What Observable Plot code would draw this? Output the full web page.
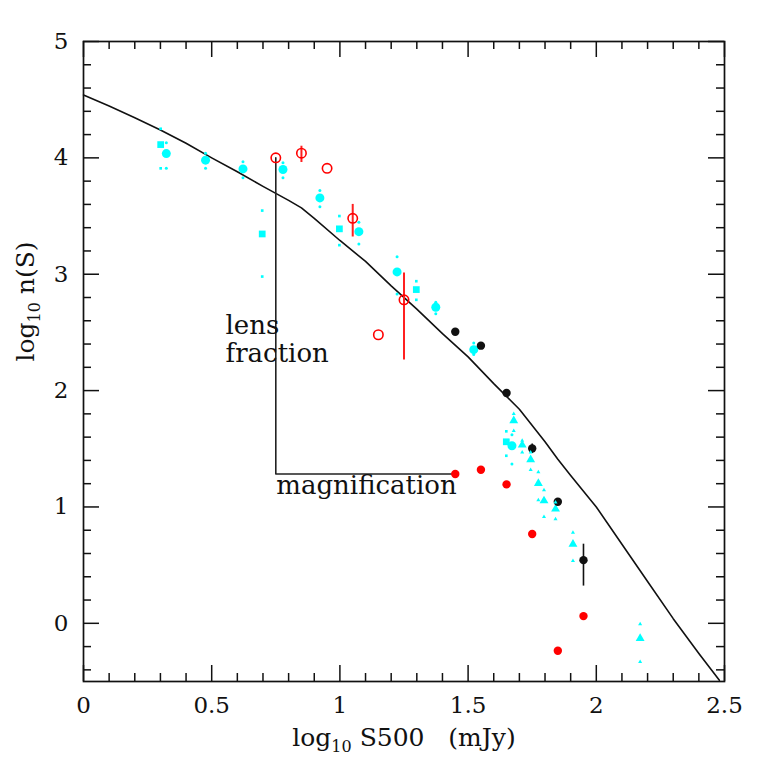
<!DOCTYPE html>
<html><head><meta charset="utf-8">
<script src="https://cdn.jsdelivr.net/npm/d3@7"></script>
<script src="https://cdn.jsdelivr.net/npm/@observablehq/plot@0.6"></script>
<style>body{margin:0;background:#fff} svg text{white-space:pre}</style>
</head><body><div id="chart"></div>
<script>
// model curve
const curveX = [0, 0.1, 0.2, 0.3, 0.4, 0.5, 0.6, 0.7, 0.8, 0.85, 0.9, 1.0, 1.1, 1.2, 1.3, 1.4, 1.5, 1.6, 1.7, 1.8, 1.85, 1.9, 2.0, 2.1, 2.2, 2.3, 2.4, 2.48];
const curveY = [4.54, 4.445, 4.345, 4.24, 4.125, 4.0, 3.88, 3.755, 3.635, 3.57, 3.48, 3.29, 3.11, 2.90, 2.70, 2.49, 2.29, 2.06, 1.84, 1.56, 1.41, 1.27, 1.00, 0.68, 0.36, 0.04, -0.26, -0.49];

// cyan circles: x, y, lower, upper
const cycX  = [0.323, 0.476, 0.622, 0.778, 0.922, 1.074, 1.223, 1.374, 1.522, 1.671];
const cycY  = [4.037, 3.98, 3.905, 3.90, 3.656, 3.366, 3.02, 2.716, 2.352, 1.526];
const cycLo = [3.91, 3.91, 3.83, 3.83, 3.58, 3.26, 2.83, 2.66, 2.31, 1.37];
const cycHi = [4.13, 4.04, 3.966, 3.957, 3.72, 3.446, 3.15, 2.76, 2.41, 1.62];

// cyan squares
const cysX  = [0.301, 0.697, 0.998, 1.298, 1.649];
const cysY  = [4.114, 3.346, 3.39, 2.868, 1.56];
const cysLo = [3.91, 2.98, 3.25, 2.78, 1.44];
const cysHi = [4.25, 3.547, 3.50, 2.94, 1.65];

// cyan triangles
const cytX  = [1.678, 1.711, 1.744, 1.774, 1.796, 1.841, 1.909, 2.171];
const cytY  = [1.741, 1.532, 1.406, 1.202, 1.053, 0.982, 0.681, -0.13];
const cytLo = [1.655, 1.47, 1.32, 1.06, 0.916, 0.896, 0.537, -0.33];
const cytHi = [1.80, 1.57, 1.47, 1.30, 1.145, 1.04, 0.78, -0.007];

// black points
const blkX  = [1.45, 1.55, 1.65, 1.75, 1.85, 1.95];
const blkY  = [2.506, 2.386, 1.979, 1.503, 1.045, 0.543];
const blkLo = [null, null, null, 1.46, null, 0.32];
const blkHi = [null, null, null, 1.54, null, 0.68];

// red open circles
const roX  = [0.75, 0.85, 0.95, 1.05, 1.15, 1.25];
const roY  = [4.0, 4.04, 3.91, 3.48, 2.48, 2.78];
const roLo = [null, 3.96, null, 3.32, null, 2.263];
const roHi = [null, 4.10, null, 3.60, null, 3.01];

// red filled circles
const rfX = [1.45, 1.55, 1.65, 1.75, 1.85, 1.95];
const rfY = [1.283, 1.32, 1.194, 0.767, -0.236, 0.062];

// axis ticks
const xMajor = [0, 0.5, 1, 1.5, 2, 2.5];
const xMinor = [0.1, 0.2, 0.3, 0.4, 0.6, 0.7, 0.8, 0.9, 1.1, 1.2, 1.3, 1.4, 1.6, 1.7, 1.8, 1.9, 2.1, 2.2, 2.3, 2.4];
const yMajor = [0, 1, 2, 3, 4, 5];
const yMinor = [-0.4, -0.2, 0.2, 0.4, 0.6, 0.8, 1.2, 1.4, 1.6, 1.8, 2.2, 2.4, 2.6, 2.8, 3.2, 3.4, 3.6, 3.8, 4.2, 4.4, 4.6, 4.8];

// axis titles: [main, subscript, rest]
const xTitle = ["log", "10", " S500   (mJy)"];
const yTitle = ["log", "10", " n(S)"];

// annotation labels
const noteText = ["lens", "fraction", "magnification"];
const noteX = [0.554, 0.554, 0.752];
const noteY = [2.49, 2.245, 1.115];

const zip = (xs, ys, extra = {}) => xs.map((x, i) => {
  const o = {x, y: ys[i]};
  for (const k in extra) o[k] = extra[k][i];
  return o;
});
const curve = zip(curveX, curveY);
const cyc = zip(cycX, cycY, {lo: cycLo, hi: cycHi});
const cys = zip(cysX, cysY, {lo: cysLo, hi: cysHi});
const cyt = zip(cytX, cytY, {lo: cytLo, hi: cytHi});
const blk = zip(blkX, blkY, {lo: blkLo, hi: blkHi});
const ro = zip(roX, roY, {lo: roLo, hi: roHi});
const rf = zip(rfX, rfY);
const notes = zip(noteX, noteY, {t: noteText});

const errMarks = (arr, symbol) => arr.flatMap(d => [{x: d.x, y: d.lo, symbol}, {x: d.x, y: d.hi, symbol}]);
const cyErr = [...errMarks(cyc, "circle"), ...errMarks(cys, "square"), ...errMarks(cyt, "triangle")];

// bracket from first open red point down and across to first filled red point
const bracket = [
  {x: ro[0].x, y: ro[0].y},
  {x: ro[0].x, y: rf[0].y},
  {x: rf[0].x, y: rf[0].y}
];

const W = 763, H = 763, mL = 83, mR = 39, mT = 41, mB = 82;
const pW = W - mL - mR, pH = H - mT - mB;
const ink = "#111";
const font = "DejaVu Serif";
const titleSize = 25;

const chart = Plot.plot({
  width: W, height: H,
  marginLeft: mL, marginRight: mR, marginTop: mT, marginBottom: mB,
  x: {domain: [0, 2.5], axis: null},
  y: {domain: [-0.5, 5], axis: null},
  style: {fontFamily: font, background: "white", color: ink},
  marks: [
    // ticks (inward, all four sides)
    Plot.ruleX(xMajor, {x: d => d, insetTop: pH - 16, stroke: ink, strokeWidth: 1.5}),
    Plot.ruleX(xMinor, {x: d => d, insetTop: pH - 8, stroke: ink, strokeWidth: 1.5}),
    Plot.ruleX(xMajor, {x: d => d, insetBottom: pH - 16, stroke: ink, strokeWidth: 1.5}),
    Plot.ruleX(xMinor, {x: d => d, insetBottom: pH - 8, stroke: ink, strokeWidth: 1.5}),
    Plot.ruleY(yMajor, {y: d => d, insetRight: pW - 16, stroke: ink, strokeWidth: 1.5}),
    Plot.ruleY(yMinor, {y: d => d, insetRight: pW - 8, stroke: ink, strokeWidth: 1.5}),
    Plot.ruleY(yMajor, {y: d => d, insetLeft: pW - 16, stroke: ink, strokeWidth: 1.5}),
    Plot.ruleY(yMinor, {y: d => d, insetLeft: pW - 8, stroke: ink, strokeWidth: 1.5}),
    Plot.frame({stroke: ink, strokeWidth: 1.7}),
    // tick labels
    Plot.text(xMajor, {x: d => d, text: d => String(d), frameAnchor: "bottom", lineAnchor: "top", dy: 15, fontSize: 23, fill: ink}),
    Plot.text(yMajor, {y: d => d, text: d => String(d), frameAnchor: "left", textAnchor: "end", dx: -15, fontSize: 23, fill: ink}),
    // axis titles (subscripts added below)
    Plot.text([xTitle.join("")], {frameAnchor: "bottom", lineAnchor: "bottom", dy: 64, dx: 0, fontSize: titleSize, fill: ink, className: "xtitle"}),
    Plot.text([yTitle.join("")], {frameAnchor: "left", rotate: -90, lineAnchor: "middle", dx: -58, fontSize: titleSize, fill: ink, className: "ytitle"}),
    // model curve
    Plot.line(curve, {x: "x", y: "y", stroke: ink, strokeWidth: 1.6}),
    // bracket
    Plot.line(bracket, {x: "x", y: "y", stroke: "#222", strokeWidth: 1.6}),
    Plot.text(notes, {x: "x", y: "y", text: "t", textAnchor: "start", lineAnchor: "bottom", fontSize: 26, fill: ink}),
    // cyan points
    Plot.dot(cyc, {x: "x", y: "y", r: 4.5, fill: "#00ffff", symbol: "circle"}),
    Plot.dot(cys, {x: "x", y: "y", r: 3.8, fill: "#00ffff", symbol: "square"}),
    Plot.dot(cyt, {x: "x", y: "y", r: 3.3, fill: "#00ffff", symbol: "triangle"}),
    // black points with error bars
    Plot.ruleX(blk.filter(d => d.lo != null), {x: "x", y1: "lo", y2: "hi", stroke: ink, strokeWidth: 1.6}),
    Plot.dot(blk, {x: "x", y: "y", r: 4.2, fill: ink}),
    // cyan error markers
    Plot.dot(cyErr, {x: "x", y: "y", r: 1.5, fill: "#00ffff", symbol: "symbol"}),
    // red open with error bars
    Plot.ruleX(ro.filter(d => d.lo != null), {x: "x", y1: "lo", y2: "hi", stroke: "#ff2020", strokeWidth: 2}),
    Plot.dot(ro, {x: "x", y: "y", r: 4.7, stroke: "#ff0000", strokeWidth: 1.6, fill: "none"}),
    // red filled
    Plot.dot(rf, {x: "x", y: "y", r: 4.2, fill: "#ff0000"})
  ]
});

// rebuild axis titles with real subscripts
function subscriptify(cls, parts) {
  d3.select(chart).selectAll(`g.${cls} text`).each(function() {
    const t = d3.select(this);
    t.text(null);
    t.append("tspan").text(parts[0]);
    t.append("tspan").attr("font-size", 16).attr("dy", 6).text(parts[1]);
    t.append("tspan").attr("dy", -6).text(parts[2]);
  });
}
subscriptify("xtitle", xTitle);
subscriptify("ytitle", yTitle);

document.getElementById("chart").appendChild(chart);
</script>
</body></html>
